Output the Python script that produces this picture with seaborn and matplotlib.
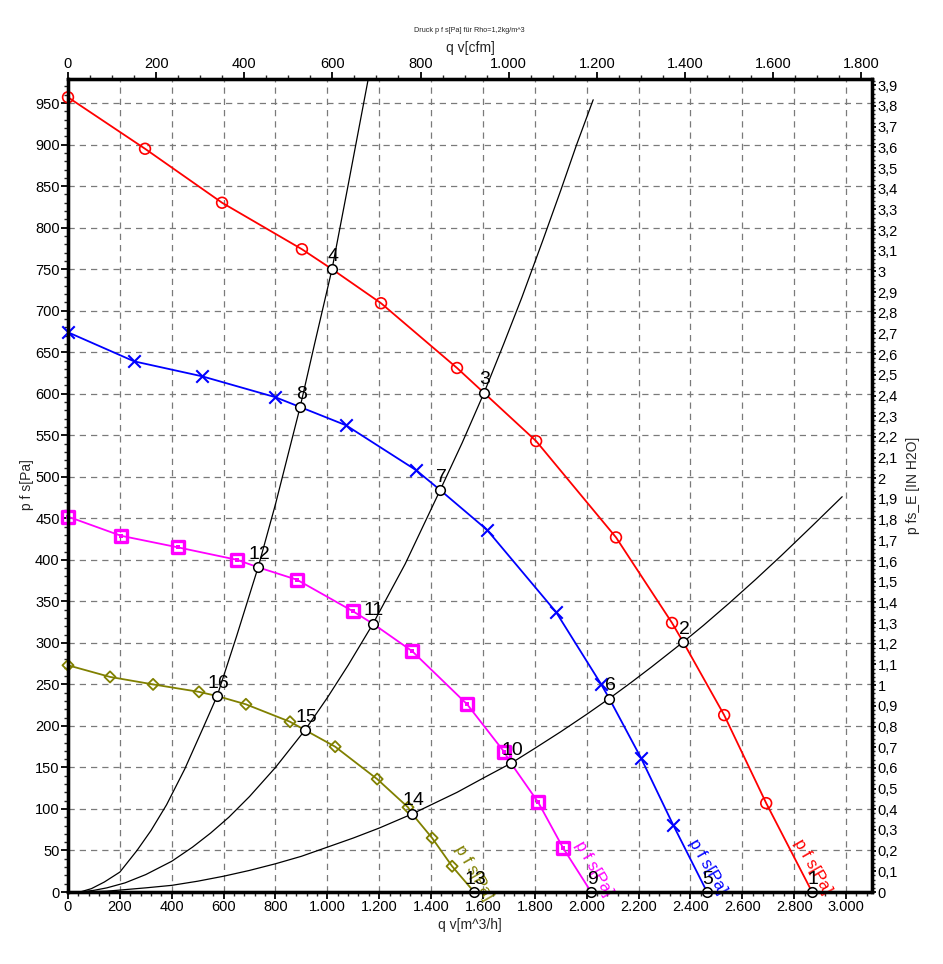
import matplotlib
matplotlib.use("Agg")
import matplotlib.pyplot as plt
import seaborn as sns
import pandas as pd
from matplotlib.ticker import MultipleLocator, FuncFormatter

# ---------------- data ----------------
# fan curves: marker positions  (q in m^3/h, p in Pa)
red_q = [0, 297, 594, 902, 1207, 1500, 1805, 2113, 2329, 2530, 2692]
red_p = [957, 895, 830, 774, 709, 631, 543, 427, 324, 213, 107]
blue_q = [0, 255, 517, 798, 1072, 1342, 1616, 1882, 2056, 2210, 2333]
blue_p = [674, 639, 621, 596, 562, 508, 436, 337, 250, 161, 81]
mag_q = [0, 204, 424, 652, 883, 1099, 1327, 1539, 1681, 1813, 1909]
mag_p = [452, 429, 415, 400, 376, 338, 290, 226, 169, 108, 53]
olive_q = [0, 162, 328, 505, 686, 856, 1030, 1192, 1311, 1404, 1481]
olive_p = [273, 259, 250, 241, 226, 205, 175, 136, 102, 65, 31]

# operating points
op_labels = ["1", "2", "3", "4", "5", "6", "7", "8",
             "9", "10", "11", "12", "13", "14", "15", "16"]
op_q = [2869, 2372, 1604, 1018, 2464, 2087, 1435, 895,
        2017, 1708, 1176, 733, 1566, 1327, 914, 575]
op_p = [0, 301, 601, 750, 0, 233, 484, 584,
        0, 155, 323, 391, 0, 94, 195, 236]

# system curves (read points)
sysA_q = [46, 90, 140, 200, 266, 320, 380, 450, 520, 650, 800, 950, 1080, 1157]
sysA_p = [0, 4, 12, 24, 50, 74, 105, 148, 197, 308, 467, 659, 851, 978]
sysB_q = [46, 100, 150, 220, 300, 400, 480, 550, 620, 700, 800, 1000, 1080,
          1250, 1300, 1520, 1680, 1750, 1830, 1900, 1960, 2025]
sysB_p = [0, 2, 5, 11, 21, 37, 54, 71, 90, 115, 150, 234, 273,
          366, 395, 541, 660, 716, 784, 845, 899, 954]
sysC_q = [46, 150, 300, 400, 500, 600, 700, 800, 900, 1000, 1100, 1200, 1420,
          1500, 1600, 1800, 1900, 2000, 2170, 2250, 2450, 2550, 2650, 2750,
          2870, 2985]
sysC_p = [0, 1, 5, 8, 13, 19, 26, 34, 43, 54, 65, 77, 108,
          120, 137, 173, 193, 214, 252, 271, 321, 348, 376, 405,
          441, 476]

curve_label = "p f s[Pa]"
curve_label_q = [2873, 2468, 2028, 1566]
curve_label_p = [31, 31, 28, 23]

x_ticks = [0, 200, 400, 600, 800, 1000, 1200, 1400, 1600, 1800, 2000,
           2200, 2400, 2600, 2800, 3000]

# ---------------- style ----------------
sns.set_style("white")
plt.rcParams["font.family"] = ["Liberation Sans", "DejaVu Sans"]

W, H = 943, 964
fig = plt.figure(figsize=(W / 100, H / 100), dpi=100)
L, R, T, B = 68, 872, 79, 892
ax = fig.add_axes([L / W, (H - B) / H, (R - L) / W, (B - T) / H])

XMAX, YMAX = 3100, 979
ax.set_xlim(0, XMAX)
ax.set_ylim(0, YMAX)

RED, BLUE, MAG, OLIVE = "#ff0000", "#0000ff", "#ff00ff", "#808000"

fans = [
    (red_q, red_p, ["1", "2", "3", "4"], RED, "o"),
    (blue_q, blue_p, ["5", "6", "7", "8"], BLUE, "x"),
    (mag_q, mag_p, ["9", "10", "11", "12"], MAG, "s"),
    (olive_q, olive_p, ["13", "14", "15", "16"], OLIVE, "D"),
]
op = pd.DataFrame({"label": op_labels, "q": op_q, "p": op_p})

# system curves
for sq, sp, members in [(sysA_q, sysA_p, ["4", "8", "12", "16"]),
                        (sysB_q, sysB_p, ["3", "7", "11", "15"]),
                        (sysC_q, sysC_p, ["2", "6", "10", "14"])]:
    d = pd.concat([pd.DataFrame({"q": sq, "p": sp}),
                   op[op.label.isin(members)][["q", "p"]]]).sort_values("q")
    sns.lineplot(data=d, x="q", y="p", ax=ax, color="black", lw=0.9,
                 estimator=None, sort=False, zorder=3)

# fan curves
for fq, fp, members, col, mk in fans:
    d = pd.concat([pd.DataFrame({"q": fq, "p": fp}),
                   op[op.label.isin(members)][["q", "p"]]]).sort_values("q")
    sns.lineplot(data=d, x="q", y="p", ax=ax, color=col, lw=1.3,
                 estimator=None, sort=False, zorder=4)
    md = pd.DataFrame({"q": fq, "p": fp})
    if mk == "x":
        sns.scatterplot(data=md, x="q", y="p", ax=ax, marker="x", s=80,
                        color=col, linewidth=1.5, zorder=5, clip_on=False)
    elif mk == "s":
        sns.scatterplot(data=md, x="q", y="p", ax=ax, marker="s", s=75,
                        facecolor="none", edgecolor=col, linewidth=2.4,
                        zorder=5, clip_on=False)
        sns.scatterplot(data=md, x="q", y="p", ax=ax, marker="s", s=5,
                        color=col, linewidth=0, zorder=5, clip_on=False)
    elif mk == "D":
        sns.scatterplot(data=md, x="q", y="p", ax=ax, marker="D", s=32,
                        facecolor="none", edgecolor=col, linewidth=1.3,
                        zorder=5, clip_on=False)
    else:
        sns.scatterplot(data=md, x="q", y="p", ax=ax, marker="o", s=60,
                        facecolor="none", edgecolor=col, linewidth=1.2,
                        zorder=5, clip_on=False)

# operating points
sns.scatterplot(data=op, x="q", y="p", ax=ax, marker="o", s=48,
                facecolor="white", edgecolor="black", linewidth=1.1,
                zorder=6, clip_on=False)
for lab, q, p in zip(op_labels, op_q, op_p):
    ax.annotate(lab, (q, p), xytext=(1, 13), textcoords="offset pixels",
                ha="center", va="center", fontsize=14, color="black",
                zorder=7, annotation_clip=False)

# curve labels
for q, p, col in zip(curve_label_q, curve_label_p, [RED, BLUE, MAG, OLIVE]):
    ax.text(q, p, curve_label, rotation=-60, ha="center", va="center",
            fontsize=12, color=col, zorder=6, clip_on=False,
            rotation_mode="anchor")

# grid
ax.set_xticks(x_ticks)
ax.xaxis.set_minor_locator(MultipleLocator(40))
ax.yaxis.set_major_locator(MultipleLocator(50))
ax.yaxis.set_minor_locator(MultipleLocator(10))
ax.grid(True, which="major", color="#7a7a7a", linestyle=(0, (5, 4)), lw=0.9)
ax.set_axisbelow(True)
ax.set_xlim(0, XMAX)
ax.set_ylim(0, YMAX)

thou = FuncFormatter(lambda v, pos: f"{int(round(v)):,}".replace(",", "."))
ax.xaxis.set_major_formatter(thou)
ax.yaxis.set_major_formatter(FuncFormatter(lambda v, pos: f"{int(round(v))}"))
ax.set_xlabel("")
ax.set_ylabel("")

# top axis (cfm)
CFM = 1.69901
axt = ax.twiny()
axt.set_xlim(0, XMAX / CFM)
axt.xaxis.set_major_locator(MultipleLocator(200))
axt.xaxis.set_minor_locator(MultipleLocator(50))
axt.xaxis.set_major_formatter(thou)

# right axis (IN H2O)
INH2O = 249.089
axr = ax.twinx()
axr.set_ylim(0, YMAX / INH2O)
axr.yaxis.set_major_locator(MultipleLocator(0.1))
axr.yaxis.set_minor_locator(MultipleLocator(0.02))


def comma(v, pos):
    s = f"{v:.1f}".replace(".", ",")
    if s.endswith(",0"):
        s = s[:-2]
    return s


axr.yaxis.set_major_formatter(FuncFormatter(comma))

for a in (ax, axt, axr):
    for sp in a.spines.values():
        sp.set_linewidth(2.3)
        sp.set_color("black")
    a.tick_params(which="major", direction="out", length=5, width=1.3,
                  labelsize=10.5, pad=1, colors="black")
    a.tick_params(which="minor", direction="out", length=3, width=1.0)

ax.tick_params(axis="x", which="both", bottom=True, top=False)
ax.tick_params(axis="y", which="both", left=True, right=False)
axt.tick_params(axis="x", which="both", top=True, bottom=False)
axr.tick_params(axis="y", which="both", right=True, left=False, length=3)
axr.tick_params(axis="y", which="minor", length=2)

# texts
fig.text(27 / W, 1 - 485 / H, "p f s[Pa]", rotation=90, ha="center",
         va="center", fontsize=10)
fig.text(913 / W, 1 - 485 / H, "p fs_E [IN H2O]", rotation=90, ha="center",
         va="center", fontsize=10)
fig.text(470 / W, 1 - 925 / H, "q v[m^3/h]", ha="center", va="center",
         fontsize=10)
fig.text(470 / W, 1 - 48 / H, "q v[cfm]", ha="center", va="center",
         fontsize=10)
fig.text(469 / W, 1 - 30 / H, "Druck p f s[Pa] für Rho=1,2kg/m^3",
         ha="center", va="center", fontsize=5.2)

fig.savefig("out.png", dpi=100, facecolor="white")
